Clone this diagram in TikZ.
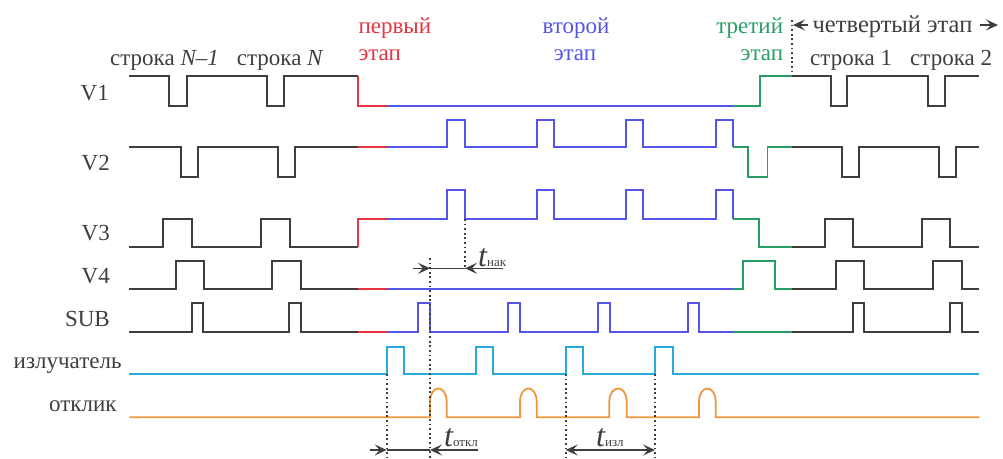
\documentclass[tikz,border=0pt]{standalone}
\usepackage{fontspec}
\setmainfont{Liberation Serif}
\usetikzlibrary{arrows.meta}

\definecolor{sig}{RGB}{62,62,62}
\definecolor{phA}{RGB}{232,52,64}
\definecolor{phB}{RGB}{84,84,232}
\definecolor{phC}{RGB}{40,158,100}
\definecolor{emit}{RGB}{40,170,222}
\definecolor{resp}{RGB}{240,150,60}

\begin{document}
\begin{tikzpicture}[x=1pt,y=-1pt,line join=miter,
  wave/.style={line width=1.8pt},
  lbl/.style={inner sep=0pt,text=sig,font=\fontsize{23}{24}\selectfont},
  guide/.style={sig,line width=1.8pt,dash pattern=on 1.8pt off 2.8pt},
  dim/.style={sig,line width=1.3pt},
  tip/.style={dim,-{Stealth[length=12pt,width=11pt,inset=5pt]}},
  tips/.style={dim,{Stealth[length=12pt,width=11pt,inset=5pt]}-{Stealth[length=12pt,width=11pt,inset=5pt]}},
  tlbl/.style={inner sep=0pt,text=sig},
]
\useasboundingbox (0,0) rectangle (1003,458);

% ---------------- signal names ----------------
\node[lbl,anchor=base east] (lv1) at (109,100) {V1};
\node[lbl,anchor=base east] (lv2) at (110,170) {V2};
\node[lbl,anchor=base east] (lv3) at (110,240.7) {V3};
\node[lbl,anchor=base east] (lv4) at (110,283.3) {V4};
\node[lbl,anchor=base east] (lsub) at (110,326) {SUB};
\node[lbl,anchor=base east] (lemit) at (121.7,368.3) {излучатель};
\node[lbl,anchor=base east] (lresp) at (116.7,411.7) {отклик};

% ---------------- row and phase captions ----------------
\node[lbl,anchor=base west] (r1) at (110,65) {строка \textit{N–1}};
\node[lbl,anchor=base west] (r2) at (236.7,65) {строка \textit{N}};
\node[lbl,anchor=base west] (r3) at (810,65) {строка 1};
\node[lbl,anchor=base west] (r4) at (910,65) {строка 2};

\node[lbl,text=phA,anchor=base west] (pa1) at (358.3,33.3) {первый};
\node[lbl,text=phA,anchor=base west] (pa2) at (358.3,60) {этап};
\node[lbl,text=phB,anchor=base] (pb1) at (576,33.3) {второй};
\node[lbl,text=phB,anchor=base] (pb2) at (575,60) {этап};
\node[lbl,text=phC,anchor=base east] (pc1) at (783.3,33.3) {третий};
\node[lbl,text=phC,anchor=base east] (pc2) at (783.3,60) {этап};
\node[lbl,anchor=base,font=\fontsize{24.5}{25}\selectfont] (pd) at (892.5,32.5) {четвертый этап};

% start of the fourth stage
\coordinate (div) at (792,20);
\coordinate (divb) at (792,76.3);
\coordinate (lA0) at (808,25);
\coordinate (lA) at (793,25);
\coordinate (rA0) at (980,25);
\coordinate (rA) at (998,25);
\draw[guide] (div) -- (divb);
\draw[tip] (lA0) -- (lA);
\draw[tip] (rA0) -- (rA);

% ---------------- V1 ----------------
\draw[wave,sig] (129.3,76.3) -- (169.3,76.3) -- (169.3,105.7) -- (186.7,105.7) -- (186.7,76.3)
  -- (266.7,76.3) -- (266.7,105.7) -- (284,105.7) -- (284,76.3) -- (358.3,76.3);
\draw[wave,phA] (358.3,76.3) -- (358.3,105.7) -- (386.7,105.7);
\draw[wave,phB] (386.7,105.7) -- (733.3,105.7);
\draw[wave,phC] (733.3,105.7) -- (760,105.7) -- (760,76.3) -- (792,76.3);
\draw[wave,sig] (792,76.3) -- (831,76.3) -- (831,105.7) -- (846.7,105.7) -- (846.7,76.3)
  -- (927.7,76.3) -- (927.7,105.7) -- (945,105.7) -- (945,76.3) -- (979.3,76.3);

% ---------------- V2 ----------------
\draw[wave,sig] (129.3,146.7) -- (181,146.7) -- (181,176.7) -- (198.3,176.7) -- (198.3,146.7)
  -- (277.7,146.7) -- (277.7,176.7) -- (295,176.7) -- (295,146.7) -- (358.3,146.7);
\draw[wave,phA] (358.3,146.7) -- (386.7,146.7);
\draw[wave,phB] (386.7,146.7)
  -- (446.7,146.7) -- (446.7,120) -- (465,120) -- (465,146.7)
  -- (536.7,146.7) -- (536.7,120) -- (554,120) -- (554,146.7)
  -- (626,146.7) -- (626,120) -- (643.3,120) -- (643.3,146.7)
  -- (716,146.7) -- (716,120) -- (733.3,120) -- (733.3,146.7);
\draw[wave,phC] (733.3,146.7) -- (748.3,146.7) -- (748.3,176.7) -- (767.5,176.7) -- (767.5,146.7) -- (792,146.7);
\draw[wave,sig] (792,146.7) -- (842,146.7) -- (842,176.7) -- (859,176.7) -- (859,146.7)
  -- (939,146.7) -- (939,176.7) -- (956,176.7) -- (956,146.7) -- (979.3,146.7);

% ---------------- V3 ----------------
\draw[wave,sig] (129.3,246.7) -- (163.3,246.7) -- (163.3,219) -- (192.3,219) -- (192.3,246.7)
  -- (260.7,246.7) -- (260.7,219) -- (290,219) -- (290,246.7) -- (358.3,246.7);
\draw[wave,phA] (358.3,246.7) -- (358.3,219) -- (386.7,219);
\draw[wave,phB] (386.7,219)
  -- (446.7,219) -- (446.7,190) -- (465,190) -- (465,219)
  -- (536.7,219) -- (536.7,190) -- (554,190) -- (554,219)
  -- (626,219) -- (626,190) -- (643.3,190) -- (643.3,219)
  -- (716,219) -- (716,190) -- (733.3,190) -- (733.3,219);
\draw[wave,phC] (733.3,219) -- (759,219) -- (759,246.7) -- (792,246.7);
\draw[wave,sig] (792,246.7) -- (825,246.7) -- (825,219) -- (853.3,219) -- (853.3,246.7)
  -- (921.7,246.7) -- (921.7,219) -- (950,219) -- (950,246.7) -- (979.3,246.7);

% ---------------- V4 ----------------
\draw[wave,sig] (129.3,289.3) -- (175.7,289.3) -- (175.7,260.7) -- (204,260.7) -- (204,289.3)
  -- (272.3,289.3) -- (272.3,260.7) -- (301,260.7) -- (301,289.3) -- (358.3,289.3);
\draw[wave,phA] (358.3,289.3) -- (386.7,289.3);
\draw[wave,phB] (386.7,289.3) -- (733.3,289.3);
\draw[wave,phC] (733.3,289.3) -- (742.7,289.3) -- (742.7,260.7) -- (775,260.7) -- (775,289.3) -- (792,289.3);
\draw[wave,sig] (792,289.3) -- (836,289.3) -- (836,260.7) -- (864.3,260.7) -- (864.3,289.3)
  -- (933.3,289.3) -- (933.3,260.7) -- (961.7,260.7) -- (961.7,289.3) -- (979.3,289.3);

% ---------------- SUB ----------------
\draw[wave,sig] (129.3,332.3) -- (191.7,332.3) -- (191.7,303.3) -- (203.3,303.3) -- (203.3,332.3)
  -- (289,332.3) -- (289,303.3) -- (301,303.3) -- (301,332.3) -- (358.3,332.3);
\draw[wave,phA] (358.3,332.3) -- (386.7,332.3);
\draw[wave,phB] (386.7,332.3)
  -- (418.3,332.3) -- (418.3,303.3) -- (430,303.3) -- (430,332.3)
  -- (508.3,332.3) -- (508.3,303.3) -- (520,303.3) -- (520,332.3)
  -- (598.3,332.3) -- (598.3,303.3) -- (610,303.3) -- (610,332.3)
  -- (687.7,332.3) -- (687.7,303.3) -- (699,303.3) -- (699,332.3) -- (733.3,332.3);
\draw[wave,phC] (733.3,332.3) -- (792,332.3);
\draw[wave,sig] (792,332.3) -- (853.3,332.3) -- (853.3,303.3) -- (864.3,303.3) -- (864.3,332.3)
  -- (950,332.3) -- (950,303.3) -- (961.7,303.3) -- (961.7,332.3) -- (979.3,332.3);

% ---------------- emitter ----------------
\draw[wave,emit] (129.3,374)
  -- (386.7,374) -- (386.7,346.7) -- (404,346.7) -- (404,374)
  -- (475.7,374) -- (475.7,346.7) -- (493.3,346.7) -- (493.3,374)
  -- (565.7,374) -- (565.7,346.7) -- (583.3,346.7) -- (583.3,374)
  -- (655,374) -- (655,346.7) -- (673.3,346.7) -- (673.3,374) -- (979.3,374);

% ---------------- response ----------------
\draw[wave,resp] (129.3,417.3)
  -- (430,417.3) -- (430,402) .. controls (430,384) and (446.7,384) .. (446.7,402) -- (446.7,417.3)
  -- (520,417.3) -- (520,402) .. controls (520,384) and (536.7,384) .. (536.7,402) -- (536.7,417.3)
  -- (609.3,417.3) -- (609.3,402) .. controls (609.3,384) and (626.7,384) .. (626.7,402) -- (626.7,417.3)
  -- (699,417.3) -- (699,402) .. controls (699,384) and (715.7,384) .. (715.7,402) -- (715.7,417.3)
  -- (979.3,417.3);

% ---------------- timing guides ----------------
\coordinate (gA) at (465,219);
\coordinate (gB) at (430,258);
\coordinate (gB1) at (430,458);
\coordinate (gE1) at (386.7,374);
\coordinate (gE1b) at (386.7,458);
\coordinate (gE3) at (565.7,374);
\coordinate (gE3b) at (565.7,458);
\coordinate (gE4) at (655,374);
\coordinate (gE4b) at (655,458);
\coordinate (nA) at (430,268.3);
\coordinate (nB) at (465,268.3);
\coordinate (nA0) at (413,268.3);
\coordinate (nB0) at (503.3,268.3);
\coordinate (oA) at (386.7,450);
\coordinate (oB) at (430,450);
\coordinate (oA0) at (370,450);
\coordinate (oB0) at (478.3,450);
\coordinate (iA) at (565.7,450);
\coordinate (iB) at (655,450);

\draw[guide] (gA) -- (nB);
\draw[guide] (gB) -- (gB1);
\draw[guide] (gE1) -- (gE1b);
\draw[guide] (gE3) -- (gE3b);
\draw[guide] (gE4) -- (gE4b);

% accumulation time
\draw[tip] (nA0) -- (nA);
\draw[dim] (nA) -- (nB);
\draw[tip] (nB0) -- (nB);
\node[tlbl,anchor=base west] (tn) at (478,266)
  {{\fontsize{32}{32}\selectfont\itshape t}{\fontsize{13}{13}\selectfont нак}};

% response delay
\draw[tip] (oA0) -- (oA);
\draw[dim] (oA) -- (oB);
\draw[tip] (oB0) -- (oB);
\node[tlbl,anchor=base west] (to) at (444,446)
  {{\fontsize{32}{32}\selectfont\itshape t}{\fontsize{13}{13}\selectfont откл}};

% emission period
\draw[tips] (iA) -- (iB);
\node[tlbl,anchor=base west] (ti) at (596,446)
  {{\fontsize{32}{32}\selectfont\itshape t}{\fontsize{13}{13}\selectfont изл}};
\end{tikzpicture}
\end{document}
